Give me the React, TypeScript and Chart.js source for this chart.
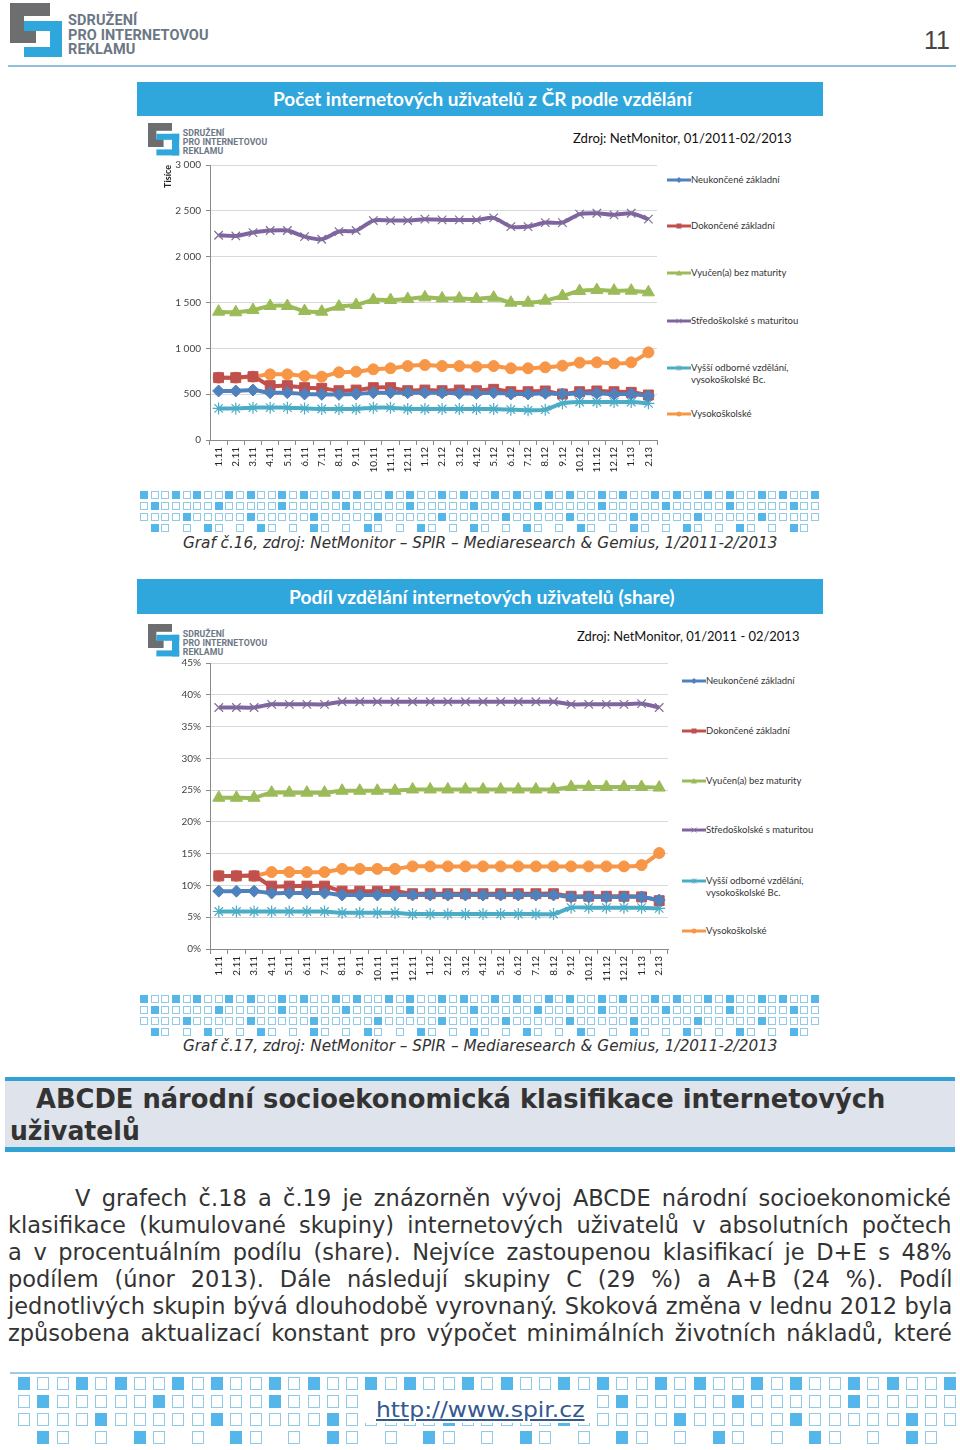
import React, { useEffect, useLayoutEffect, useRef, useState } from "react";
import { Chart, registerables } from "chart.js";
Chart.register(...registerables);

// ---------------- DATA ----------------
const months = [
  "1.11", "2.11", "3.11", "4.11", "5.11", "6.11", "7.11", "8.11", "9.11", "10.11", "11.11", "12.11",
  "1.12", "2.12", "3.12", "4.12", "5.12", "6.12", "7.12", "8.12", "9.12", "10.12", "11.12", "12.12",
  "1.13", "2.13",
];

const seriesNames = [
  "Neukončené základní",
  "Dokončené základní",
  "Vyučen(a) bez maturity",
  "Středoškolské s maturitou",
  "Vyšší odborné vzdělání, vysokoškolské Bc.",
  "Vysokoškolské",
];

// Graf 16 – absolute numbers (thousands)
const absNeukoncene = [535, 535, 545, 516, 516, 502, 498, 498, 502, 516, 516, 516, 516, 516, 509, 509, 516, 502, 502, 509, 502, 509, 509, 502, 502, 480];
const absDokoncene = [680, 680, 691, 593, 593, 571, 564, 538, 545, 571, 571, 538, 545, 538, 545, 538, 553, 527, 527, 535, 502, 527, 535, 527, 520, 491];
const absVyucen = [1400, 1393, 1418, 1462, 1462, 1407, 1400, 1455, 1473, 1527, 1527, 1538, 1556, 1545, 1545, 1538, 1553, 1498, 1498, 1520, 1571, 1625, 1636, 1629, 1629, 1611];
const absStredoskolske = [2234, 2226, 2263, 2285, 2285, 2219, 2190, 2274, 2285, 2394, 2394, 2394, 2409, 2401, 2401, 2401, 2423, 2328, 2328, 2372, 2372, 2464, 2474, 2456, 2474, 2409];
const absVyssi = [345, 345, 353, 353, 353, 345, 338, 338, 338, 353, 353, 338, 338, 338, 338, 338, 338, 331, 324, 331, 400, 415, 415, 415, 415, 400];
const absVysokoskolske = [680, 680, 691, 716, 716, 698, 691, 738, 745, 771, 782, 807, 818, 807, 807, 800, 807, 782, 782, 793, 811, 844, 847, 836, 847, 956];

// Graf 17 – share (%)
const shareNeukoncene = [9.1, 9.1, 9.1, 8.8, 8.8, 8.8, 8.8, 8.5, 8.5, 8.5, 8.5, 8.5, 8.5, 8.5, 8.5, 8.5, 8.5, 8.5, 8.5, 8.5, 8.2, 8.2, 8.2, 8.2, 8.2, 7.7];
const shareDokoncene = [11.5, 11.5, 11.5, 9.9, 9.9, 9.9, 9.9, 9.1, 9.1, 9.1, 9.1, 8.7, 8.7, 8.7, 8.7, 8.7, 8.7, 8.7, 8.7, 8.7, 8.3, 8.3, 8.3, 8.3, 8.2, 7.6];
const shareVyucen = [23.8, 23.8, 23.8, 24.6, 24.6, 24.6, 24.6, 24.9, 24.9, 24.9, 24.9, 25.1, 25.1, 25.1, 25.1, 25.1, 25.1, 25.1, 25.1, 25.1, 25.5, 25.5, 25.5, 25.5, 25.5, 25.4];
const shareStredoskolske = [38.0, 38.0, 38.0, 38.5, 38.5, 38.5, 38.5, 38.9, 38.9, 38.9, 38.9, 38.9, 38.9, 38.9, 38.9, 38.9, 38.9, 38.9, 38.9, 38.9, 38.5, 38.5, 38.5, 38.5, 38.6, 38.0];
const shareVyssi = [5.9, 5.9, 5.9, 5.9, 5.9, 5.9, 5.9, 5.7, 5.7, 5.7, 5.7, 5.5, 5.5, 5.5, 5.5, 5.5, 5.5, 5.5, 5.5, 5.5, 6.5, 6.5, 6.5, 6.5, 6.5, 6.4];
const shareVysokoskolske = [11.5, 11.5, 11.5, 12.1, 12.1, 12.1, 12.1, 12.6, 12.6, 12.6, 12.6, 13.0, 13.0, 13.0, 13.0, 13.0, 13.0, 13.0, 13.0, 13.0, 13.0, 13.0, 13.0, 13.0, 13.2, 15.1];

const absSeries = [absNeukoncene, absDokoncene, absVyucen, absStredoskolske, absVyssi, absVysokoskolske];
const shareSeries = [shareNeukoncene, shareDokoncene, shareVyucen, shareStredoskolske, shareVyssi, shareVysokoskolske];

// ---------------- STYLES ----------------
const seriesColors = ["#4F81BD", "#C0504D", "#9BBB59", "#8064A2", "#4BACC6", "#F79646"];
const pointStyles = ["rectRot", "rect", "triangle", "crossRot", "star", "circle"];
const pointRadii = [6, 7, 7, 6, 6, 5.5];
const pointBorders = ["#4F81BD", "#C0504D", "#9BBB59", "#7d6f93", "#4BACC6", "#F79646"];

const TICK_FONT = { family: "Lato, 'Open Sans', sans-serif", size: 10 };
const LEGEND_FONT = "Lato, 'Open Sans', sans-serif";
const BLUE = "#2fa6dc";

function buildDatasets(values: number[][]) {
  return values.map((d, i) => ({
    label: seriesNames[i],
    data: d,
    borderColor: seriesColors[i],
    backgroundColor: seriesColors[i],
    borderWidth: 4,
    pointStyle: pointStyles[i] as any,
    pointRadius: pointRadii[i],
    pointBackgroundColor: seriesColors[i],
    pointBorderColor: pointBorders[i],
    pointBorderWidth: i === 3 || i === 4 ? 1.2 : 1,
    tension: 0.25,
    fill: false,
  }));
}

function fmtThousands(v: number) {
  if (v >= 1000) {
    const t = Math.floor(v / 1000);
    const r = String(v % 1000).padStart(3, "0");
    return t + " " + r;
  }
  return String(v);
}

// ---------------- COMPONENTS ----------------
function FitText(props: {
  text: string; left: number; top: number; width: number; height: number; style?: React.CSSProperties;
}) {
  const { text, left, top, width, height, style } = props;
  const ref = useRef<HTMLSpanElement>(null);
  const [sx, setSx] = useState(1);
  useLayoutEffect(() => {
    if (ref.current) {
      const w = ref.current.offsetWidth;
      if (w > 0) setSx(width / w);
    }
  }, [text, width]);
  return (
    <div style={{ position: "absolute", left, top, height, lineHeight: height + "px", whiteSpace: "nowrap" }}>
      <span
        ref={ref}
        style={{ display: "inline-block", transform: `scaleX(${sx})`, transformOrigin: "left center", ...style }}
      >
        {text}
      </span>
    </div>
  );
}

// one justified text line: word spacing computed so the line spans exactly `width`
function JustifyLine(props: { text: string; left: number; top: number; width: number; height: number; style: React.CSSProperties }) {
  const { text, left, top, width, height, style } = props;
  const ref = useRef<HTMLSpanElement>(null);
  const [ws, setWs] = useState(0);
  const [sx, setSx] = useState(1);
  useLayoutEffect(() => {
    if (!ref.current) return;
    const w = ref.current.offsetWidth;
    const spaces = (text.match(/ /g) || []).length;
    if (w <= width) {
      setWs(spaces > 0 ? (width - w) / spaces : 0);
      setSx(1);
    } else {
      setWs(0);
      setSx(width / w);
    }
  }, [text, width]);
  return (
    <div style={{ position: "absolute", left, top, height, lineHeight: height + "px", whiteSpace: "pre" }}>
      <span ref={ref} style={{ display: "inline-block", visibility: "hidden", ...style }}>{text}</span>
      <span
        style={{
          position: "absolute", left: 0, top: 0, display: "inline-block", wordSpacing: ws + "px",
          transform: `scaleX(${sx})`, transformOrigin: "left center", ...style,
        }}
      >
        {text}
      </span>
    </div>
  );
}

function Logo(props: { left: number; top: number; scale: number; textColor?: string }) {
  const { left, top, scale } = props;
  const grey = "#6d6e70";
  const blue = "#2fa6dc";
  const r = (x: number, y: number, w: number, h: number, c: string) => (
    <div style={{ position: "absolute", left: x, top: y, width: w, height: h, background: c }} />
  );
  return (
    <div style={{ position: "absolute", left, top, width: 200, height: 54, transform: `scale(${scale})`, transformOrigin: "left top" }}>
      {r(0, 0, 40, 13, grey)}
      {r(0, 0, 14, 40, grey)}
      {r(0, 27, 26, 13, grey)}
      {r(14, 18, 38, 10, blue)}
      {r(40, 18, 12, 36, blue)}
      {r(14, 44, 38, 10, blue)}
      <div
        style={{
          position: "absolute", left: 58, top: 11, fontFamily: "'Liberation Sans Narrow', 'Roboto', sans-serif",
          fontWeight: 700, fontSize: 14.5, lineHeight: "14.5px", color: props.textColor || "#6b7785", letterSpacing: 0.1,
        }}
      >
        <div>SDRUŽENÍ</div>
        <div>PRO INTERNETOVOU</div>
        <div>REKLAMU</div>
      </div>
    </div>
  );
}

function Pattern(props: {
  left: number; top: number; width: number; pitchX: number; pitchY: number; w: number; h: number;
  rows: string[];
}) {
  const { left, top, width, pitchX, pitchY, w, h, rows } = props;
  const cells: React.ReactNode[] = [];
  const n = Math.floor((width - w) / pitchX) + 1;
  rows.forEach((pat, ri) => {
    for (let i = 0; i < n; i++) {
      const ch = pat[i % pat.length];
      if (ch === "N") continue;
      cells.push(
        <div
          key={ri + "-" + i}
          style={{
            position: "absolute", left: i * pitchX, top: ri * pitchY, width: w, height: h, boxSizing: "border-box",
            border: "1px solid " + (ch === "F" ? "#55b6ea" : "#8fcbe8"),
            background: ch === "F" ? "#55b6ea" : "#ffffff",
          }}
        />
      );
    }
  });
  return <div style={{ position: "absolute", left, top, width, height: rows.length * pitchY }}>{cells}</div>;
}

const patternRows = ["FEEFE", "EFEEEE", "EEEEFE", "NFENE"];

function LegendMarker(props: { i: number }) {
  const { i } = props;
  const c = seriesColors[i];
  let shape: React.ReactNode = null;
  const cx = 12, cy = 5;
  switch (pointStyles[i]) {
    case "rectRot":
      shape = <polygon points={`${cx},${cy - 3} ${cx + 3},${cy} ${cx},${cy + 3} ${cx - 3},${cy}`} fill={c} />;
      break;
    case "rect":
      shape = <rect x={cx - 2.5} y={cy - 2.5} width={5} height={5} fill={c} />;
      break;
    case "triangle":
      shape = <polygon points={`${cx},${cy - 3} ${cx + 3},${cy + 2.5} ${cx - 3},${cy + 2.5}`} fill={c} />;
      break;
    case "crossRot":
      shape = (
        <g stroke="#7d6f93" strokeWidth={0.8}>
          <line x1={cx - 2.5} y1={cy - 2.5} x2={cx + 2.5} y2={cy + 2.5} />
          <line x1={cx - 2.5} y1={cy + 2.5} x2={cx + 2.5} y2={cy - 2.5} />
        </g>
      );
      break;
    case "star":
      shape = (
        <g stroke={c} strokeWidth={0.8}>
          <line x1={cx - 2.5} y1={cy - 2.5} x2={cx + 2.5} y2={cy + 2.5} />
          <line x1={cx - 2.5} y1={cy + 2.5} x2={cx + 2.5} y2={cy - 2.5} />
          <line x1={cx} y1={cy - 3} x2={cx} y2={cy + 3} />
        </g>
      );
      break;
    default:
      shape = <circle cx={cx} cy={cy} r={2.5} fill={c} />;
  }
  return (
    <svg width={24} height={10} style={{ display: "block" }}>
      <line x1={0} y1={cy} x2={24} y2={cy} stroke={c} strokeWidth={3} />
      {shape}
    </svg>
  );
}

function Legend(props: { left: number; tops: number[] }) {
  const { left, tops } = props;
  return (
    <>
      {seriesNames.map((name, i) => {
        const parts = i === 4 ? ["Vyšší odborné vzdělání,", "vysokoškolské Bc."] : [name];
        return (
          <div key={i} style={{ position: "absolute", left, top: tops[i] - 6 }}>
            <div style={{ position: "absolute", left: 0, top: 1 }}>
              <LegendMarker i={i} />
            </div>
            <div
              style={{
                position: "absolute", left: 24, top: 0, whiteSpace: "nowrap", fontFamily: LEGEND_FONT,
                fontSize: 9.5, lineHeight: "12px", color: "#333",
              }}
            >
              {parts.map((p, k) => (
                <div key={k}>{p}</div>
              ))}
            </div>
          </div>
        );
      })}
    </>
  );
}

function LineChart(props: {
  left: number; top: number; width: number; height: number; values: number[][]; yMax: number; yStep: number;
  yFmt: (v: number) => string; yTitle?: string; pad: { top: number; right: number; left: number; bottom: number };
  yAxisWidth: number; xAxisHeight: number;
}) {
  const ref = useRef<HTMLCanvasElement>(null);
  useEffect(() => {
    const chart = new Chart(ref.current!, {
      type: "line",
      data: { labels: months, datasets: buildDatasets(props.values) as any },
      options: {
        animation: false,
        responsive: false,
        maintainAspectRatio: false,
        layout: { padding: props.pad },
        plugins: { legend: { display: false }, tooltip: { enabled: false } },
        scales: {
          x: {
            offset: true,
            grid: { offset: true, drawOnChartArea: false, tickLength: 5, color: "#8a8a8a" },
            border: { color: "#8a8a8a" },
            ticks: { minRotation: 90, maxRotation: 90, autoSkip: false, font: TICK_FONT, color: "#222", padding: 2 },
            afterFit: (s: any) => {
              s.height = props.xAxisHeight;
            },
          },
          y: {
            min: 0,
            max: props.yMax,
            ticks: {
              stepSize: props.yStep,
              font: { ...TICK_FONT, size: 10 },
              color: "#444",
              padding: 5,
              callback: (v: any) => props.yFmt(Number(v)),
            },
            grid: { color: "#d9d9d9", tickLength: 4, tickColor: "#8a8a8a" },
            border: { color: "#8a8a8a" },
            title: props.yTitle
              ? {
                  display: true,
                  text: props.yTitle,
                  align: "end",
                  font: { family: "Lato, sans-serif", size: 9, weight: "bold" },
                  color: "#222",
                  padding: { top: 26, bottom: 0 },
                }
              : { display: false },
            afterFit: (s: any) => {
              s.width = props.yAxisWidth;
            },
          },
        },
      } as any,
    });
    return () => chart.destroy();
  }, []);
  return (
    <canvas
      ref={ref}
      width={props.width}
      height={props.height}
      style={{ position: "absolute", left: props.left, top: props.top, width: props.width, height: props.height }}
    />
  );
}

const paragraphLines = [
  "V grafech č.18 a č.19 je znázorněn vývoj ABCDE národní socioekonomické",
  "klasifikace (kumulované skupiny) internetových uživatelů v absolutních počtech",
  "a v procentuálním podílu (share). Nejvíce zastoupenou klasifikací je D+E s 48%",
  "podílem (únor 2013). Dále následují skupiny C (29 %) a A+B (24 %). Podíl",
  "jednotlivých skupin bývá dlouhodobě vyrovnaný. Skoková změna v lednu 2012 byla",
  "způsobena aktualizací konstant pro výpočet minimálních životních nákladů, které",
];

export default function App() {
  const bannerText: React.CSSProperties = { fontFamily: "Lato, sans-serif", fontWeight: 700, fontSize: 19, color: "#fff" };
  const zdroj: React.CSSProperties = { fontFamily: "Lato, sans-serif", fontSize: 13, color: "#111" };
  const caption: React.CSSProperties = { fontFamily: "'DejaVu Sans', Verdana, sans-serif", fontStyle: "italic", fontSize: 15, color: "#333" };
  const para: React.CSSProperties = { fontFamily: "'DejaVu Sans', Verdana, sans-serif", fontSize: 22.5, color: "#333" };
  return (
    <div style={{ position: "absolute", left: 0, top: 0, width: 960, height: 1450, background: "#fff", overflow: "hidden" }}>
      {/* Header */}
      <Logo left={10} top={3} scale={1} />
      <FitText text="11" left={924} top={26} width={26} height={28}
        style={{ fontFamily: "'Liberation Sans', Arial, sans-serif", fontSize: 26, color: "#444" }} />
      <div style={{ position: "absolute", left: 8, top: 65, width: 948, height: 2, background: "#8fc0dc" }} />

      {/* Chart 16 */}
      <div style={{ position: "absolute", left: 137, top: 82, width: 686, height: 34, background: BLUE }} />
      <FitText text="Počet internetových uživatelů z ČR podle vzdělání" left={273} top={84} width={419} height={30} style={bannerText} />
      <Logo left={148} top={123} scale={0.6} />
      <FitText text="Zdroj: NetMonitor, 01/2011-02/2013" left={573} top={129} width={219} height={17} style={zdroj} />
      <LineChart left={137} top={150} width={530} height={330} values={absSeries} yMax={3000} yStep={500}
        yFmt={fmtThousands} yTitle="Tisíce" pad={{ top: 15, right: 10, left: 0, bottom: 0 }} yAxisWidth={73} xAxisHeight={40} />
      <Legend left={667} tops={[180, 226, 273, 321, 368, 414]} />
      <Pattern left={140} top={491} width={683} pitchX={10.65} pitchY={11} w={8} h={8} rows={patternRows} />
      <FitText text="Graf č.16, zdroj: NetMonitor – SPIR – Mediaresearch & Gemius, 1/2011-2/2013" left={183} top={533} width={595} height={20} style={caption} />

      {/* Chart 17 */}
      <div style={{ position: "absolute", left: 137, top: 579, width: 686, height: 35, background: BLUE }} />
      <FitText text="Podíl vzdělání internetových uživatelů (share)" left={289} top={582} width={386} height={30} style={bannerText} />
      <Logo left={148} top={624} scale={0.6} />
      <FitText text="Zdroj: NetMonitor, 01/2011 - 02/2013" left={577} top={627} width={222} height={17} style={zdroj} />
      <LineChart left={137} top={650} width={545} height={340} values={shareSeries} yMax={45} yStep={5}
        yFmt={(v) => v + "%"} pad={{ top: 13, right: 14, left: 0, bottom: 0 }} yAxisWidth={73} xAxisHeight={41} />
      <Legend left={682} tops={[681, 731, 781, 830, 881, 931]} />
      <Pattern left={140} top={995} width={683} pitchX={10.65} pitchY={11} w={8} h={8} rows={patternRows} />
      <FitText text="Graf č.17, zdroj: NetMonitor – SPIR – Mediaresearch & Gemius, 1/2011-2/2013" left={183} top={1036} width={595} height={20} style={caption} />

      {/* Section heading */}
      <div style={{ position: "absolute", left: 5, top: 1077, width: 950, height: 4, background: "#31a2d4" }} />
      <div style={{ position: "absolute", left: 5, top: 1081, width: 950, height: 66, background: "#dfe3eb" }} />
      <div style={{ position: "absolute", left: 5, top: 1147, width: 950, height: 5, background: "#31a2d4" }} />
      <FitText text="ABCDE národní socioekonomická klasifikace internetových" left={36} top={1083} width={849} height={32}
        style={{ fontFamily: "'DejaVu Sans', Verdana, sans-serif", fontWeight: 700, fontSize: 27, color: "#333" }} />
      <FitText text="uživatelů" left={10} top={1115} width={130} height={32}
        style={{ fontFamily: "'DejaVu Sans', Verdana, sans-serif", fontWeight: 700, fontSize: 27, color: "#333" }} />

      {/* Paragraph */}
      {paragraphLines.map((t, i) => (
        <JustifyLine key={i} text={t} left={i === 0 ? 75 : 8} top={1185 + i * 27} width={i === 0 ? 876 : 944} height={27} style={para} />
      ))}

      {/* Footer */}
      <div style={{ position: "absolute", left: 10, top: 1372, width: 946, height: 2, background: "#9ccbe3" }} />
      <Pattern left={18} top={1377} width={940} pitchX={19.3} pitchY={18} w={12} h={13} rows={patternRows} />
      <div style={{ position: "absolute", left: 362, top: 1394, width: 232, height: 29, background: "#fff" }} />
      <FitText text="http://www.spir.cz" left={376} top={1396} width={209} height={28}
        style={{ fontFamily: "'DejaVu Sans', Verdana, sans-serif", fontSize: 22, color: "#34598f", textDecoration: "underline" }} />
    </div>
  );
}
